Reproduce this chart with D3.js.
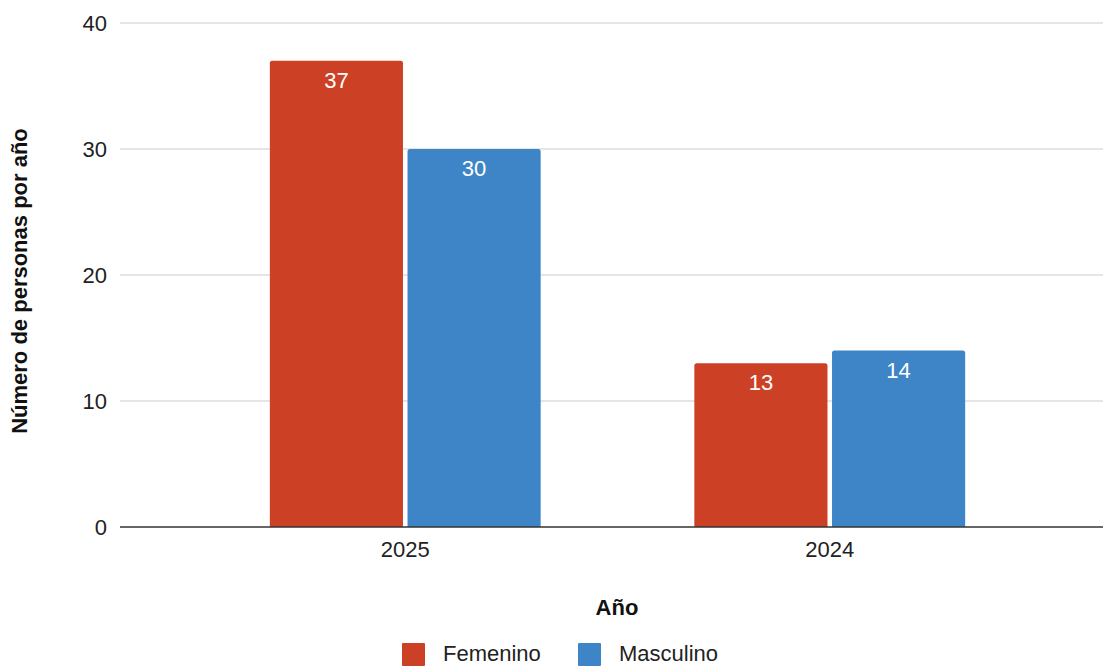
<!DOCTYPE html>
<html>
<head>
<meta charset="utf-8">
<script src="https://cdn.jsdelivr.net/npm/d3@7"></script>
<style>
  body { margin: 0; background: #fff; }
  text { font-family: "Liberation Sans", Arial, sans-serif; }
</style>
</head>
<body>
<div id="chart"></div>
<script>
// Chart data
var years = ["2025", "2024"];
var seriesNames = ["Femenino", "Masculino"];
var femenino = [37, 13];
var masculino = [30, 14];
var yTicks = [0, 10, 20, 30, 40];
var seriesColors = ["#cc4125", "#3d85c6"];

var width = 1103, height = 666;
var fontSize = 22;

var svg = d3.select("#chart").append("svg")
    .attr("width", width)
    .attr("height", height);

// Scales
var y = d3.scaleLinear()
    .domain([0, 40])
    .range([527, 23]);

var x0 = d3.scaleBand()
    .domain(years)
    .range([193, 1042])
    .paddingInner(0.362)
    .paddingOuter(0.181);

var x1 = d3.scaleBand()
    .domain(seriesNames)
    .range([0, x0.bandwidth()])
    .paddingInner(0.033);

var color = d3.scaleOrdinal().domain(seriesNames).range(seriesColors);

// Gridlines
svg.append("g")
    .selectAll("line")
    .data(yTicks.filter(function(d) { return d > 0; }))
    .enter().append("line")
    .attr("x1", 120)
    .attr("x2", width)
    .attr("y1", function(d) { return y(d); })
    .attr("y2", function(d) { return y(d); })
    .attr("stroke", "#cccccc")
    .attr("stroke-width", 1.2);

// Y axis tick labels
var yAxis = d3.axisLeft(y).tickValues(yTicks).tickSize(0).tickPadding(0);
var yg = svg.append("g")
    .attr("transform", "translate(107,0)")
    .call(yAxis);
yg.select(".domain").remove();
yg.selectAll("text")
    .attr("font-size", fontSize)
    .attr("fill", "#222")
    .attr("font-family", "Liberation Sans, Arial, sans-serif");

// Bars
var rows = years.map(function(yr, i) {
    return { year: yr, values: [
        { name: "Femenino", value: femenino[i] },
        { name: "Masculino", value: masculino[i] }
    ]};
});

var groups = svg.append("g").selectAll("g")
    .data(rows)
    .enter().append("g")
    .attr("transform", function(d) { return "translate(" + x0(d.year) + ",0)"; });

groups.selectAll("path")
    .data(function(d) { return d.values; })
    .enter().append("path")
    .attr("fill", function(d) { return color(d.name); })
    .attr("d", function(d) {
        var bx = x1(d.name), bw = x1.bandwidth(), by = y(d.value), bh = y(0) - y(d.value), r = 2.5;
        return "M" + bx + "," + (by + bh) +
            "V" + (by + r) +
            "Q" + bx + "," + by + " " + (bx + r) + "," + by +
            "H" + (bx + bw - r) +
            "Q" + (bx + bw) + "," + by + " " + (bx + bw) + "," + (by + r) +
            "V" + (by + bh) + "Z";
    });

groups.selectAll("text.val")
    .data(function(d) { return d.values; })
    .enter().append("text")
    .attr("class", "val")
    .attr("x", function(d) { return x1(d.name) + x1.bandwidth() / 2; })
    .attr("y", function(d) { return y(d.value) + 27; })
    .attr("text-anchor", "middle")
    .attr("font-size", fontSize)
    .attr("fill", "#fff")
    .text(function(d) { return d.value; });

// Baseline
svg.append("line")
    .attr("x1", 120)
    .attr("x2", width)
    .attr("y1", y(0))
    .attr("y2", y(0))
    .attr("stroke", "#333")
    .attr("stroke-width", 1.6);

// X axis labels
var xAxis = d3.axisBottom(x0).tickSize(0).tickPadding(0);
var xg = svg.append("g")
    .attr("transform", "translate(0,557)")
    .call(xAxis);
xg.select(".domain").remove();
xg.selectAll("text")
    .attr("dy", 0)
    .attr("font-size", fontSize)
    .attr("fill", "#222")
    .attr("font-family", "Liberation Sans, Arial, sans-serif");

// Axis titles
svg.append("text")
    .attr("x", 617)
    .attr("y", 615)
    .attr("text-anchor", "middle")
    .attr("font-size", fontSize)
    .attr("font-weight", "bold")
    .attr("fill", "#111")
    .text("Año");

svg.append("text")
    .attr("transform", "translate(27,281) rotate(-90)")
    .attr("text-anchor", "middle")
    .attr("font-size", fontSize)
    .attr("font-weight", "bold")
    .attr("fill", "#111")
    .text("Número de personas por año");

// Legend
var legendX = [402, 578];
var legend = svg.append("g").selectAll("g")
    .data(seriesNames)
    .enter().append("g")
    .attr("transform", function(d, i) { return "translate(" + legendX[i] + ",643)"; });

legend.append("rect")
    .attr("width", 23)
    .attr("height", 23)
    .attr("rx", 1)
    .attr("fill", function(d) { return color(d); });

legend.append("text")
    .attr("x", 41)
    .attr("y", 18)
    .attr("font-size", fontSize)
    .attr("fill", "#222")
    .text(function(d) { return d; });
</script>
</body>
</html>
